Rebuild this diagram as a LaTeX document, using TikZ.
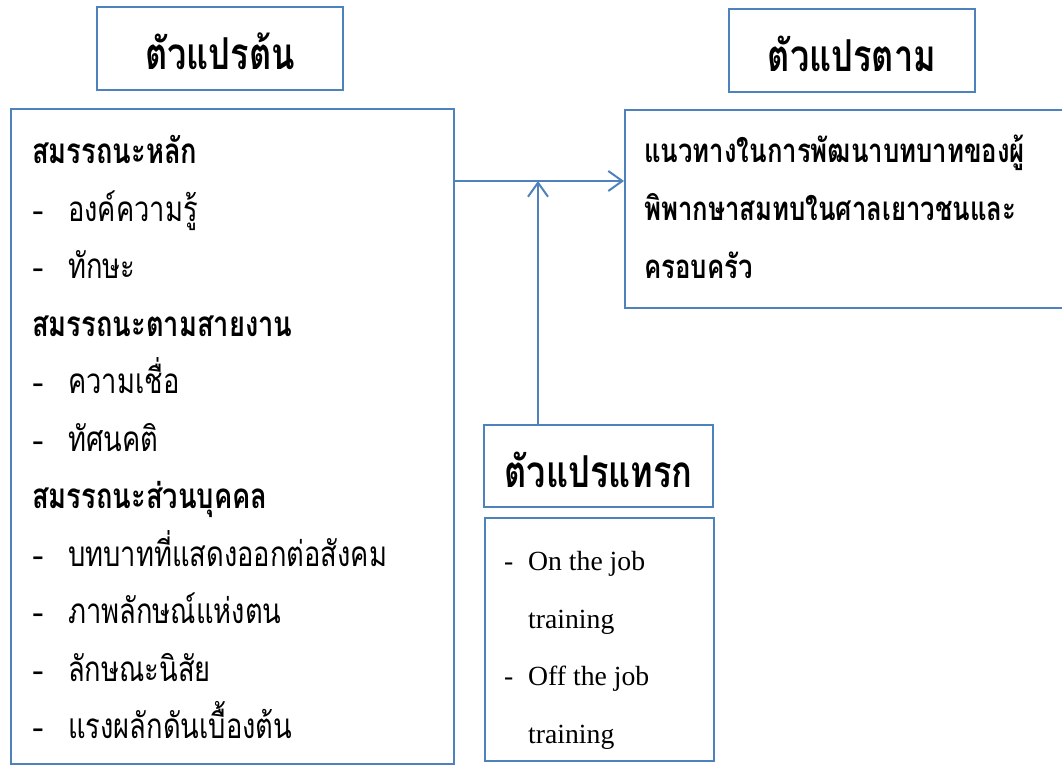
\documentclass[tikz,border=0pt]{standalone}
\usepackage{fontspec}
\setmainfont{Liberation Serif}
\newfontfamily\thai[Script=Thai,FakeStretch=0.78]{Loma}
\usetikzlibrary{arrows.meta}
\definecolor{boxblue}{RGB}{79,129,189}
\newcommand{\dash}{\makebox[36pt][l]{\rmfamily -}}
\tikzset{
  box/.style={draw=boxblue, line width=2pt, inner sep=0pt},
  titlebox/.style={box, font=\thai\bfseries\fontsize{44}{44}\selectfont, text height=42pt, text depth=0pt},
  thaitext/.style={anchor=base west, inner sep=0pt, font=\thai\fontsize{35}{35}\selectfont},
  head/.style={anchor=base west, inner sep=0pt, font=\thai\bfseries\fontsize{35}{35}\selectfont},
  dvtext/.style={head, font=\thai\bfseries\fontsize{33}{33}\selectfont},
  engtext/.style={anchor=base west, inner sep=0pt, font=\fontsize{27.7}{27.7}\selectfont},
  conn/.style={draw=boxblue, line width=2pt, -{Straight Barb[length=14pt,width=20pt]}},
}
\begin{document}
\begin{tikzpicture}[x=1pt,y=-1pt]
        \useasboundingbox (0,0) rectangle (1062,765);
        \node [titlebox, minimum width=246pt, minimum height=83pt] (ivtitle) at (220,48.5) {ตัวแปรต้น};
        \node [titlebox, minimum width=246pt, minimum height=83pt] (dvtitle) at (852,50.5) {ตัวแปรตาม};
        \node [titlebox, minimum width=229pt, minimum height=82pt] (modtitle) at (598.5,466) {ตัวแปรแทรก};
        \node [box, anchor=north west, minimum width=443pt, minimum height=655pt] (ivbox) at (10,108) {};
        \node [box, anchor=north west, minimum width=460pt, minimum height=198pt] (dvbox) at (624,109) {};
        \node [box, anchor=north west, minimum width=229pt, minimum height=243pt] (modbox) at (484,517) {};
        \node [head] (iv1) at (32,163) {สมรรถนะหลัก};
        \node [thaitext] (iv2) at (32,221) {\dash องค์ความรู้};
        \node [thaitext] (iv3) at (32,278) {\dash ทักษะ};
        \node [head] (iv4) at (32,336) {สมรรถนะตามสายงาน};
        \node [thaitext] (iv5) at (32,393) {\dash ความเชื่อ};
        \node [thaitext] (iv6) at (32,451) {\dash ทัศนคติ};
        \node [head] (iv7) at (32,508) {สมรรถนะส่วนบุคคล};
        \node [thaitext] (iv8) at (32,566) {\dash บทบาทที่แสดงออกต่อสังคม};
        \node [thaitext] (iv9) at (32,623) {\dash ภาพลักษณ์แห่งตน};
        \node [thaitext] (iv10) at (32,681) {\dash ลักษณะนิสัย};
        \node [thaitext] (iv11) at (32,738) {\dash แรงผลักดันเบื้องต้น};
        \node [dvtext] (dv1) at (644,162) {แนวทางในการพัฒนาบทบาทของผู้};
        \node [dvtext] (dv2) at (644,220) {พิพากษาสมทบในศาลเยาวชนและ};
        \node [dvtext] (dv3) at (644,278) {ครอบครัว};
        \node [engtext] (mod1) at (504,570) {\makebox[24pt][l]{-}On the job};
        \node [engtext] (mod2) at (528,628) {training};
        \node [engtext] (mod3) at (504,685) {\makebox[24pt][l]{-}Off the job};
        \node [engtext] (mod4) at (528,743) {training};
        \coordinate (meet) at (538,181);
        \draw [conn] (ivbox.east |- meet) -- (dvbox.west |- meet);
        \draw [conn] (meet |- modtitle.north) -- (meet);
      \end{tikzpicture}
\end{document}
